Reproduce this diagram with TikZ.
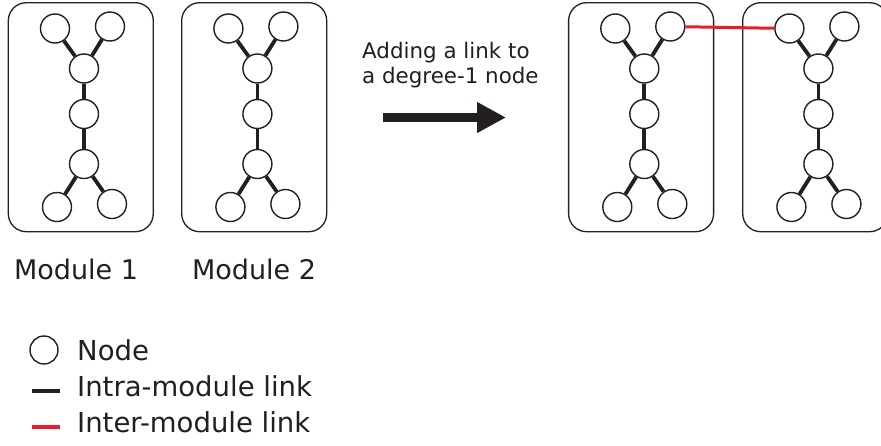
\documentclass[tikz,border=0pt]{standalone}
\usepackage{fontspec}
\setmainfont{DejaVu Sans}
\usetikzlibrary{arrows.meta}

\definecolor{linkred}{RGB}{232,28,42}
\definecolor{inkblack}{RGB}{35,31,32}

\tikzset{
  vtx/.style={circle, draw=inkblack, line width=1.4pt, minimum size=29pt,
    inner sep=0pt, fill=white},
  modbox/.style={draw=inkblack, line width=1.3pt, rounded corners=18pt,
    minimum width=145pt, minimum height=229pt, inner sep=0pt},
  intra/.style={line width=3.8pt, draw=inkblack},
  inter/.style={line width=3pt, draw=linkred},
  bigtext/.style={font=\fontsize{27}{32}\selectfont, text=inkblack, inner sep=0pt},
  keytext/.style={font=\fontsize{27.5}{32}\selectfont, text=inkblack, inner sep=0pt},
  smalltext/.style={font=\fontsize{21.4}{25}\selectfont, text=inkblack, inner sep=0pt},
}

% One module: a rounded frame holding a seven-node tree
\newcommand\moduleat[2]{%
  \begin{scope}[shift={(#2,0)}]
    \node[modbox] (#1box) at (80.8,117.2) {};
    \node[vtx] (#1tl) at (55,28.5) {};
    \node[vtx] (#1tr) at (110,26.5) {};
    \node[vtx] (#1um) at (84,68.5) {};
    \node[vtx] (#1mm) at (84,114) {};
    \node[vtx] (#1lm) at (84,164) {};
    \node[vtx] (#1bl) at (57,207) {};
    \node[vtx] (#1br) at (112,204) {};
    \draw[intra] (#1tl) -- (#1um);
    \draw[intra] (#1tr) -- (#1um);
    \draw[intra] (#1um) -- (#1mm);
    \draw[intra] (#1mm) -- (#1lm);
    \draw[intra] (#1lm) -- (#1bl);
    \draw[intra] (#1lm) -- (#1br);
  \end{scope}}

\begin{document}
\begin{tikzpicture}[x=1pt, y=-1pt]
  \useasboundingbox (0,0) rectangle (881,445);
  \fill[white] (0,0) rectangle (881,445);

  % separate modules
  \moduleat{a}{0}
  \moduleat{b}{173.4}
  \node[bigtext, anchor=base] (alabel) at (76,279) {Module 1};
  \node[bigtext, anchor=base] (blabel) at (254,279) {Module 2};

  % operation
  \node[smalltext, anchor=base west] (op1) at (362,58) {Adding a link to};
  \node[smalltext, anchor=base west] (op2) at (362,83) {a degree-1 node};
  \coordinate (arrowstart) at (383,117.5);
  \coordinate (arrowend) at (506,117.5);
  \draw[line width=9pt, draw=inkblack, fill=inkblack,
        -{Triangle[length=29pt, width=29pt]}] (arrowstart) -- (arrowend);

  % joined modules
  \moduleat{c}{560.3}
  \moduleat{d}{734.4}
  \draw[inter] (ctr) -- (dtl);

  % legend
  \node[vtx, minimum size=28pt] (keynode) at (44,350) {};
  \node[keytext, anchor=base west] (keynodetext) at (77,360) {Node};
  \coordinate (intraA) at (32,391);
  \coordinate (intraB) at (60,391);
  \draw[intra, line width=3.2pt] (intraA) -- (intraB);
  \node[keytext, anchor=base west] (keyintra) at (77,396) {Intra-module link};
  \coordinate (interA) at (32,427);
  \coordinate (interB) at (60,427);
  \draw[inter, line width=3.2pt] (interA) -- (interB);
  \node[keytext, anchor=base west] (keyinter) at (77,432) {Inter-module link};
\end{tikzpicture}
\end{document}
